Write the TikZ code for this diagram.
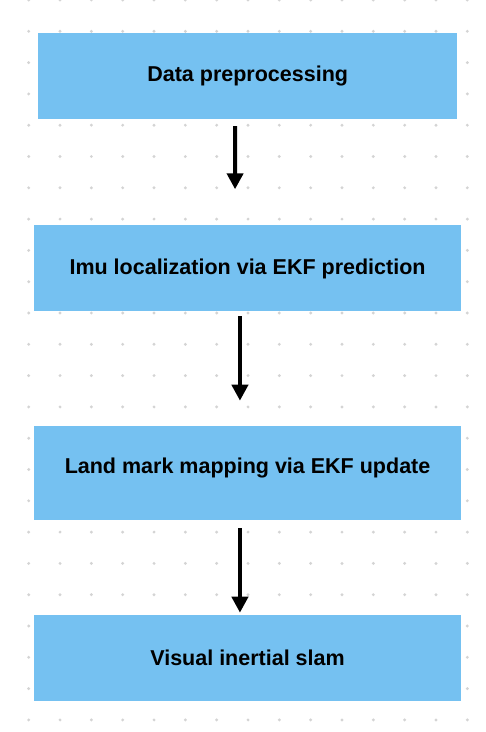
\documentclass[tikz,border=0pt]{standalone}
\usepackage{fontspec}
\setmainfont{Liberation Sans}
\usetikzlibrary{arrows.meta}
\definecolor{boxblue}{HTML}{75C1F1}
\definecolor{dotgray}{HTML}{D4D4D4}
\tikzset{
  box/.style={fill=boxblue, draw=none, inner sep=0pt, anchor=north west},
  boxtext/.style={font=\fontsize{21.5}{26}\selectfont\bfseries, text=black, inner sep=0pt},
  flowarrow/.style={line width=4pt, -{Triangle[width=16pt,length=16pt]}, black},
  griddot/.style={fill=dotgray, draw=none}
}
\begin{document}
\begin{tikzpicture}[x=1pt,y=-1pt]
\useasboundingbox (0,0) rectangle (486,732);
\fill[white] (0,0) rectangle (486,732);
\foreach \i in {0,...,14}{
  \foreach \j in {0,...,23}{
    \fill[griddot] ({28.7+31.33*\i},{31.3*\j}) circle (1.6);
  }
}
\node[box, minimum width=419pt, minimum height=85.7pt] (b1) at (38,33) {};
\node[boxtext] at (b1.center) (t1) {Data preprocessing};
\node[box, minimum width=427.3pt, minimum height=86pt] (b2) at (33.7,224.7) {};
\node[boxtext] at ([yshift=-1.5pt]b2.center) (t2) {Imu localization via EKF prediction};
\node[box, minimum width=427.3pt, minimum height=93.3pt] (b3) at (33.7,426) {};
\node[boxtext] at ([yshift=5pt]b3.center) (t3) {Land mark mapping via EKF update};
\node[box, minimum width=427.3pt, minimum height=85.3pt] (b4) at (33.7,615) {};
\node[boxtext] at (b4.center) (t4) {Visual inertial slam};
\draw[flowarrow] ([xshift=-12.5pt,yshift=-7pt]b1.south) -- ([xshift=-12.5pt,yshift=35.4pt]b2.north);
\draw[flowarrow] ([xshift=-7.6pt,yshift=-5.3pt]b2.south) -- ([xshift=-7.6pt,yshift=25.3pt]b3.north);
\draw[flowarrow] ([xshift=-7.6pt,yshift=-8.7pt]b3.south) -- ([xshift=-7.6pt,yshift=2.3pt]b4.north);
\end{tikzpicture}
\end{document}
